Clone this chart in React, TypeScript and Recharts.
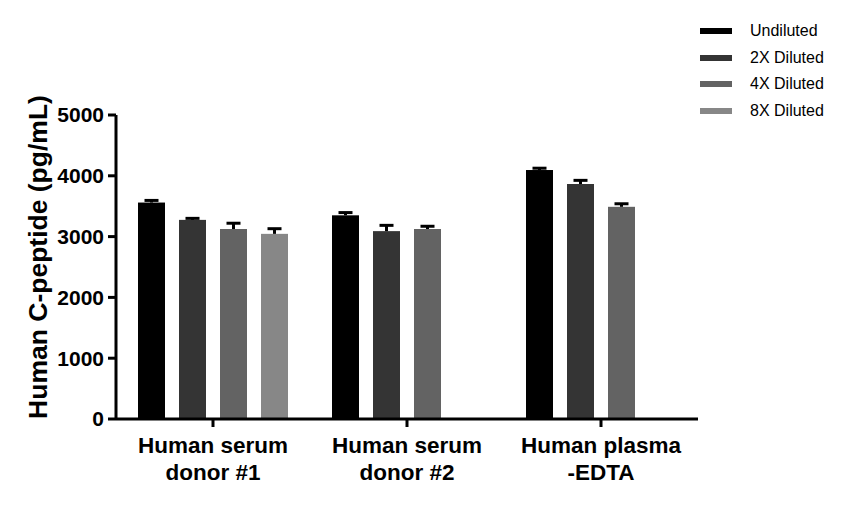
import { Bar, BarChart, Legend, XAxis, YAxis } from "recharts";

const categories = [
  ["Human serum", "donor #1"],
  ["Human serum", "donor #2"],
  ["Human plasma", "-EDTA"],
];
const undiluted = [3560, 3350, 4095];
const diluted2x = [3275, 3090, 3865];
const diluted4x = [3125, 3125, 3490];
const diluted8x = [3045, null, null];
const undilutedErr = [35, 45, 30];
const diluted2xErr = [25, 95, 60];
const diluted4xErr = [95, 45, 50];
const diluted8xErr = [85, null, null];
const yTicks = [0, 1000, 2000, 3000, 4000, 5000];

const series = [
  { key: "u", err: "uErr", name: "Undiluted", color: "#000000" },
  { key: "d2", err: "d2Err", name: "2X Diluted", color: "#343434" },
  { key: "d4", err: "d4Err", name: "4X Diluted", color: "#636363" },
  { key: "d8", err: "d8Err", name: "8X Diluted", color: "#878787" },
];

const data = categories.map((lines, i) => ({
  label: lines.join("\n"),
  u: undiluted[i],
  d2: diluted2x[i],
  d4: diluted4x[i],
  d8: diluted8x[i],
  uErr: undilutedErr[i],
  d2Err: diluted2xErr[i],
  d4Err: diluted4xErr[i],
  d8Err: diluted8xErr[i],
}));

const font = "'Liberation Sans', Arial, sans-serif";

// bar with a one-sided (upward) error whisker, scaled from the bar's own height
function barWithError(valueKey: string, errKey: string) {
  return (props: any) => {
    const { x, y, width, height, fill, payload } = props;
    const value = payload?.[valueKey];
    if (value == null || !height) return <g />;
    const err = payload[errKey] ?? 0;
    const errPx = (height * err) / value;
    const cx = x + width / 2;
    return (
      <g>
        <rect x={x} y={y} width={width} height={height} fill={fill} />
        {err > 0 && (
          <g stroke="#000" strokeWidth={3}>
            <line x1={cx} x2={cx} y1={y} y2={y - errPx} />
            <line x1={cx - 7} x2={cx + 7} y1={y - errPx} y2={y - errPx} />
          </g>
        )}
      </g>
    );
  };
}

function CategoryTick({ x, y, payload }: any) {
  const lines = String(payload.value).split("\n");
  return (
    <text x={x} y={y} textAnchor="middle" fill="#000" fontFamily={font} fontWeight="bold" fontSize={22.5}>
      {lines.map((line, i) => (
        <tspan key={line} x={x} dy={i === 0 ? 24 : 27}>
          {line}
        </tspan>
      ))}
    </text>
  );
}

function YLabel({ viewBox }: any) {
  const cx = 38;
  const cy = viewBox.y + viewBox.height / 2 - 10;
  return (
    <text
      x={cx}
      y={cy}
      transform={`rotate(-90 ${cx} ${cy})`}
      textAnchor="middle"
      dominantBaseline="central"
      fill="#000"
      fontFamily={font}
      fontWeight="bold"
      fontSize={26.5}
    >
      Human C-peptide (pg/mL)
    </text>
  );
}

function LegendBox() {
  return (
    <div style={{ fontFamily: font, fontSize: 16, color: "#000" }}>
      {series.map((s) => (
        <div key={s.key} style={{ display: "flex", alignItems: "center", height: 26.5 }}>
          <span style={{ display: "inline-block", width: 32, height: 6, background: s.color, marginRight: 18 }} />
          <span>{s.name}</span>
        </div>
      ))}
    </div>
  );
}

export default function App() {
  return (
    <div style={{ position: "absolute", left: 0, top: 0, background: "#fff" }}>
      <BarChart
        width={847}
        height={507}
        data={data}
        margin={{ top: 115, right: 149, bottom: 58, left: 36 }}
        barSize={27}
        barGap={14}
      >
        <XAxis
          dataKey="label"
          height={30}
          axisLine={{ stroke: "#000", strokeWidth: 3 }}
          tickLine={{ stroke: "#000", strokeWidth: 3 }}
          tickSize={8}
          tick={<CategoryTick />}
          interval={0}
        />
        <YAxis
          width={80}
          domain={[0, 5000]}
          ticks={yTicks}
          interval={0}
          axisLine={{ stroke: "#000", strokeWidth: 3 }}
          tickLine={{ stroke: "#000", strokeWidth: 3 }}
          tickSize={8}
          tickMargin={4}
          tick={{ fill: "#000", fontFamily: font, fontWeight: "bold", fontSize: 21 }}
          label={<YLabel />}
        />
        <Legend
          layout="vertical"
          align="center"
          verticalAlign="middle"
          wrapperStyle={{ left: 700, top: 18, width: 147 }}
          content={<LegendBox />}
        />
        {series.map((s) => (
          <Bar
            key={s.key}
            dataKey={s.key}
            name={s.name}
            fill={s.color}
            isAnimationActive={false}
            shape={barWithError(s.key, s.err)}
          />
        ))}
      </BarChart>
    </div>
  );
}
